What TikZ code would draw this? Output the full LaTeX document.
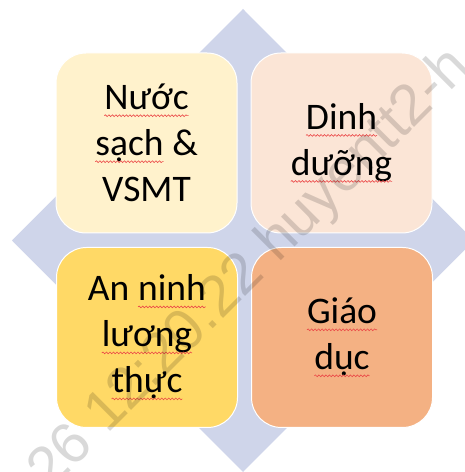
\documentclass[tikz,border=0pt]{standalone}
\usepackage{fontspec}
\setmainfont{Carlito}
\newfontfamily\wmfont{Liberation Sans}
\usetikzlibrary{decorations.pathmorphing}
\definecolor{diam}{RGB}{207,213,234}
\definecolor{cA}{RGB}{255,242,204}
\definecolor{cB}{RGB}{251,229,214}
\definecolor{cC}{RGB}{255,217,102}
\definecolor{cD}{RGB}{244,177,131}
\definecolor{spell}{RGB}{235,70,70}
\newcommand\sqw[1]{\tikz[baseline=(sqwn.base)]{\node[inner sep=0pt,outer sep=0pt,draw=none,fill=none,minimum size=0pt,rounded corners=0pt] (sqwn) {#1};
  \draw[spell, line width=0.6pt, rounded corners=0pt, decorate, decoration={snake, amplitude=0.9pt, segment length=3.5pt}] ([yshift=-6pt]sqwn.base west) -- ([yshift=-6pt]sqwn.base east);}}
\tikzset{
  quad/.style={draw=white, line width=1pt, rounded corners=30pt,
    minimum width=181pt, minimum height=180pt, inner sep=0pt,
    align=center, font=\fontsize{37.5}{46}\selectfont, text=black},
  wm/.style={font=\wmfont\fontsize{58}{60}\selectfont, text=black, text opacity=0.15, inner sep=0pt}
}
\begin{document}
\begin{tikzpicture}[x=1pt,y=1pt]
\useasboundingbox (0,0) rectangle (465,472);
\clip (0,0) rectangle (465,472);
\fill[diam] (243,463) -- (474,231.5) -- (243,0) -- (12,231.5) -- cycle;
\node[quad, fill=cA] (nuoc) at (146.5,329) {\sqw{Nước}\\\sqw{sạch} \&\\VSMT};
\node[quad, fill=cB] (dinh) at (341.5,329) {\sqw{Dinh}\\\sqw{dưỡng}};
\node[quad, fill=cC] (anninh) at (147,134.5) {An \sqw{ninh}\\\sqw{lương}\\\sqw{thực}};
\node[quad, fill=cD] (giaoduc) at (342,134.5) {\sqw{Giáo}\\\sqw{dục}};
\node[wm, rotate=45, anchor=base west] (mark) at (50,-20) {26 12:20.22 huyentt2-h};
\end{tikzpicture}
\end{document}
